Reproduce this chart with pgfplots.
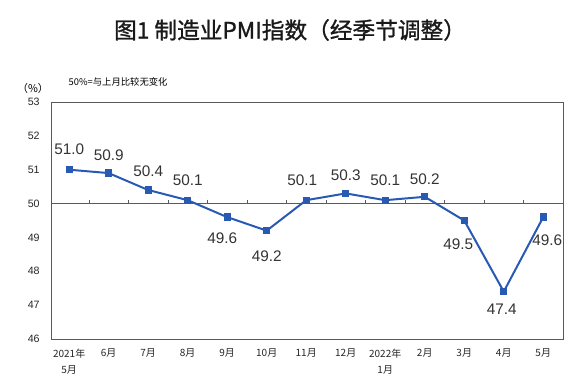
\documentclass[border=0pt]{standalone}
\usepackage{fontspec}
\setmainfont{Liberation Sans}
\newfontfamily\cjk{Noto Sans CJK SC}
\newfontfamily\cjktitle[FakeBold=1.2]{Noto Sans CJK SC}
\usepackage{pgfplots}
\pgfplotsset{compat=1.18}
\definecolor{pmiblue}{RGB}{40,90,180}
\definecolor{framegray}{RGB}{90,90,90}
\begin{document}
\begin{tikzpicture}[x=0.75pt,y=0.75pt]
\useasboundingbox (0,0) rectangle (573,391);
\node[font=\cjktitle\fontsize{17}{19}\selectfont, text=black!90] at (290,361) {图1 制造业PMI指数（经季节调整）};
\node[font=\cjk\fontsize{8}{9}\selectfont] at (33,303) {（\%）};
\node[font=\cjk\fontsize{7}{9}\selectfont, anchor=west] at (64,309) {50\%=与上月比较无变化};
\begin{axis}[
  at={(38.25pt,39pt)}, anchor=south west,
  scale only axis, width=384pt, height=177.75pt,
  xmin=-0.46, xmax=12.5, ymin=46, ymax=53,
  ytick={46,47,48,49,50,51,52,53},
  xtick={0,1,2,3,4,5,6,7,8,9,10,11,12},
  xticklabels={{2021年\\5月},6月,7月,8月,9月,10月,11月,12月,{2022年\\1月},2月,3月,4月,5月},
  major tick length=0pt,
  axis line style={draw=framegray, line width=0.6pt},
  /pgf/number format/assume math mode=true,
  yticklabel style={font=\fontsize{8}{9}\selectfont, text=black!85, xshift=-5pt},
  xticklabel style={font=\cjk\fontsize{7.5}{12}\selectfont, text=black!85, align=center, yshift=-4pt},
  clip=false,
]
\draw[framegray, line width=0.6pt] (axis cs:-0.46,50) -- (axis cs:12.5,50);
\pgfplotsinvokeforeach{0.5,1.5,2.5,3.5,4.5,5.5,6.5,7.5,8.5,9.5,10.5,11.5}{
  \draw[framegray, line width=0.6pt] (axis cs:#1,50) -- ++(0pt,3pt);
}
\addplot[pmiblue, line width=1.5pt, mark=square*, mark size=2pt, mark options={solid},
  nodes near coords, point meta=explicit symbolic,
  visualization depends on={value \thisrow{dx}\as\dx},
  visualization depends on={value \thisrow{dy}\as\dy},
  every node near coord/.style={font=\fontsize{11.5}{12}\selectfont, text=black!80, anchor=center, xshift=\dx pt, yshift=\dy pt, inner sep=0pt}]
  table[x=x, y=y, meta=lab] {
x y lab dx dy
0 51.0 51.0 0 15
1 50.9 50.9 0 13.5
2 50.4 50.4 0 14
3 50.1 50.1 0 15
4 49.6 49.6 -3.75 -16
5 49.2 49.2 0 -19.5
6 50.1 50.1 -3 15
7 50.3 50.3 0 14
8 50.1 50.1 0 15
9 50.2 50.2 0 13.5
10 49.5 49.5 -4.5 -18
11 47.4 47.4 -1.5 -13.5
12 49.6 49.6 3 -17
};
\end{axis}
\end{tikzpicture}
\end{document}
